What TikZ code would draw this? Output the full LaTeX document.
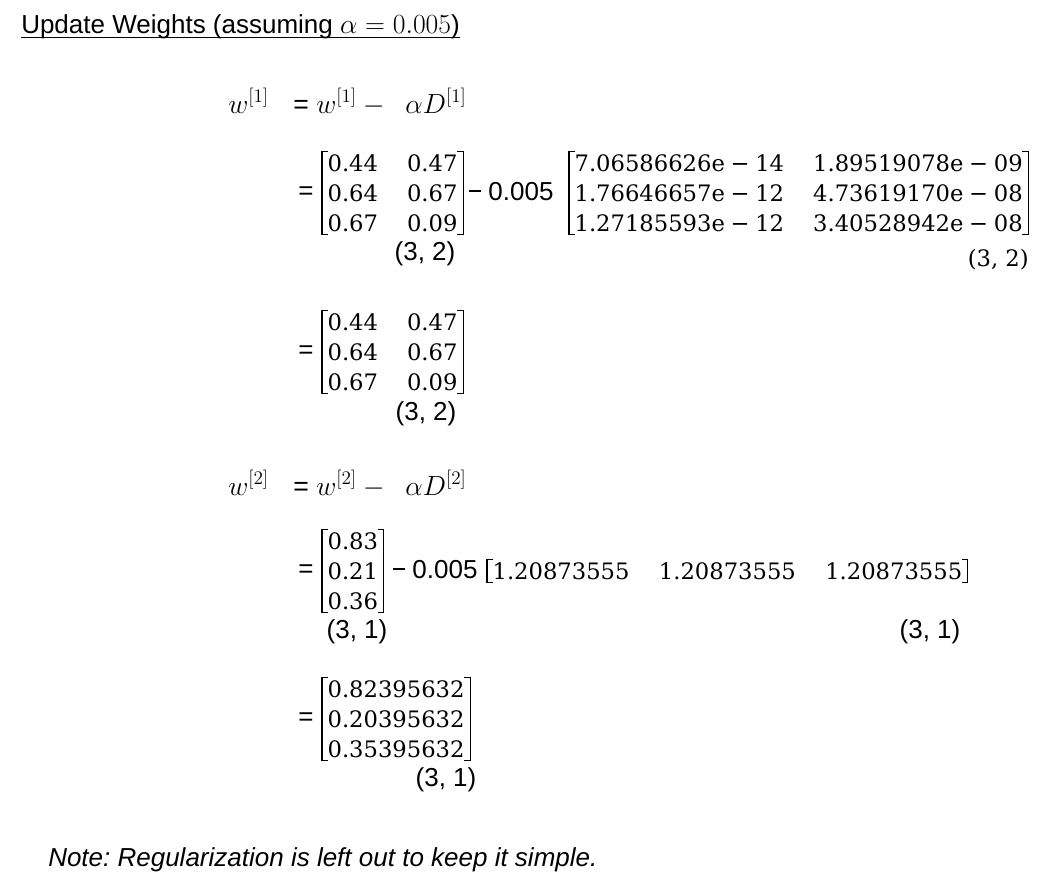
\documentclass[tikz,border=0pt]{standalone}
\usepackage{amsmath}
\usepackage{fontspec}
\setmainfont{Liberation Sans}
\newfontfamily\numfont{DejaVu Serif}
\usetikzlibrary{positioning,matrix}

% exponent entry: mantissa, minus sign, exponent
\newcommand{\ex}[2]{#1e\kern0.25em−\kern0.25em#2}
% short dash before the scalar
\newcommand{\sdash}{\rule[0.32em]{0.46em}{0.075em}}

\begin{document}
\begin{tikzpicture}[x=0.75pt,y=-0.75pt,
  txt/.style={inner sep=0pt,font=\fontsize{19.5}{23}\selectfont},
  lbl/.style={txt,anchor=west},
  eqn/.style={inner sep=0pt,anchor=base west,font=\fontsize{20}{24}\selectfont},
  dims/.style={txt,anchor=center},
  nummat/.style={matrix of nodes,anchor=west,inner xsep=4pt,inner ysep=2pt,
    row sep=10.1pt,column sep=21.75pt,
    nodes={inner sep=0pt,text height=12.4pt,text depth=0pt,
      font=\fontsize{17}{20}\selectfont\numfont}},
  bkt/.style={line width=0.9pt}]
\useasboundingbox (0,0) rectangle (1057,879);
% heading
\node[txt,anchor=base west] (title) at (21,33) {Update Weights (assuming $\alpha = 0.005$)};
\draw[line width=1.1pt] ([yshift=-3.4pt]title.base west) -- ([yshift=-3.4pt]title.base east);
% layer 1
\node[eqn] (wone) at (228,113) {$w^{[1]}$};
\node[eqn] (eqone) at (293,113) {= $w^{[1]} -\ \ \alpha D^{[1]}$};
\node[lbl] (eqa) at (298,193) {=};
\matrix[nummat] (wa) at (322,193) {
  0.44 & 0.47\\ 0.64 & 0.67\\ 0.67 & 0.09\\};
\node[txt,anchor=base west] (minusa) at (469,200) {\sdash\ 0.005};
\matrix[nummat] (da) at (569,193) {
  \ex{7.06586626}{14} & \ex{1.89519078}{09}\\
  \ex{1.76646657}{12} & \ex{4.73619170}{08}\\
  \ex{1.27185593}{12} & \ex{3.40528942}{08}\\};
\node[dims] (dima) at (425,254) {(3, 2)};
\node[txt,anchor=east,font=\fontsize{17}{20}\selectfont\numfont] (dimda) at (1029,260) {(3, 2)};
\node[lbl] (eqb) at (298,352) {=};
\matrix[nummat] (wb) at (322,352) {
  0.44 & 0.47\\ 0.64 & 0.67\\ 0.67 & 0.09\\};
\node[dims] (dimb) at (426,414) {(3, 2)};
% layer 2
\node[eqn] (wtwo) at (228,495) {$w^{[2]}$};
\node[eqn] (eqtwo) at (293,495) {= $w^{[2]} -\ \ \alpha D^{[2]}$};
\node[lbl] (eqc) at (298,571) {=};
\matrix[nummat] (wc) at (322,571) {
  0.83\\ 0.21\\ 0.36\\};
\node[txt,anchor=base west] (minusc) at (393,578) {\sdash\ 0.005};
\matrix[nummat,column sep=22pt] (dc) at (487,571) {
  1.20873555 & 1.20873555 & 1.20873555\\};
\node[dims] (dimc) at (357,632) {(3, 1)};
\node[dims] (dimdc) at (930,632) {(3, 1)};
\node[lbl] (eqd) at (298,719) {=};
\matrix[nummat] (wd) at (322,719) {
  0.82395632\\ 0.20395632\\ 0.35395632\\};
\node[dims] (dimd) at (446,780) {(3, 1)};
% brackets
\foreach \m in {wa,da,wb,wc,dc,wd}{
  \draw[bkt] ([xshift=4.5pt]\m.north west) -| (\m.south west) -- ++(6,0);
  \draw[bkt] ([xshift=-4.5pt]\m.north east) -| (\m.south east) -- ++(-6,0);
}
% footnote
\node[txt,anchor=base west,font=\fontsize{19.5}{23}\selectfont\itshape] (note) at (48,866) {Note:\ Regularization is left out to keep it simple.};
\end{tikzpicture}
\end{document}
